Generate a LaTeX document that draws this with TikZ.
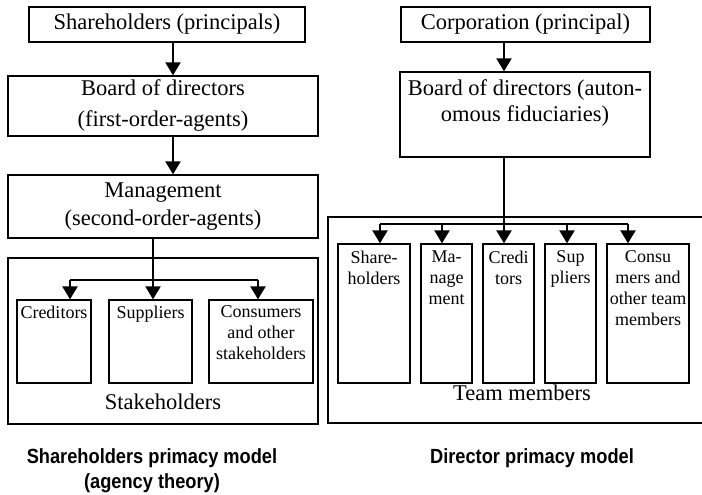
\documentclass[tikz,border=0pt]{standalone}
\usepackage{fontspec}
\setmainfont{Liberation Serif}
\newfontfamily\capfont[FakeStretch=0.89]{Liberation Sans}
\usetikzlibrary{arrows.meta}
\begin{document}
\begin{tikzpicture}[x=1pt,y=-1pt,
  box/.style={draw, line width=1.3pt, inner sep=0pt},
  big/.style={font=\fontsize{22.5}{30}\selectfont, align=center},
  small/.style={font=\fontsize{18}{21}\selectfont, align=center, inner sep=0pt, anchor=north},
  arr/.style={line width=2.2pt, -{Triangle[width=15pt,length=13pt]}},
  ln/.style={line width=1.8pt},
  captxt/.style={font=\capfont\bfseries\fontsize{20.5}{25}\selectfont, align=center}]
\useasboundingbox (0,0) rectangle (702,495);

% ---------- left: shareholder primacy ----------
\node[box, big, minimum width=276pt, minimum height=35pt] (sh) at (167,24.5) {Shareholders (principals)};
\node[box, big, minimum width=310pt, minimum height=60pt, font=\fontsize{22.5}{31}\selectfont] (bd) at (163,106) {Board of directors\\(first-order-agents)};
\node[box, big, minimum width=310pt, minimum height=63pt, font=\fontsize{22.5}{28}\selectfont] (mg) at (163,206.5) {Management\\(second-order-agents)};
\node[box, minimum width=310pt, minimum height=166pt] (stk) at (163,341) {};
\node[box, minimum width=74pt, minimum height=83pt] (cred) at (54,341.5) {};
\node[box, minimum width=83pt, minimum height=83pt] (sup) at (150.5,341.5) {};
\node[box, minimum width=104pt, minimum height=83pt] (cons) at (261,341.5) {};
\node[small] (credt) at (54,305.7) {Creditors};
\node[small] (supt) at (150.5,305.7) {Suppliers};
\node[small] (const) at (261,305.7) {Consumers\\and other\\stakeholders};
\node[big] (stkt) at (163,401.5) {Stakeholders};
\node[captxt] (capl) at (152,471) {Shareholders primacy model\\(agency theory)};

\coordinate (xa) at (173,0);
\coordinate (xb) at (153,0);
\coordinate (hl) at (70,280);
\coordinate (hr) at (258,280);
\draw[arr] (sh.south -| xa) -- (bd.north -| xa);
\draw[arr] (bd.south -| xa) -- (mg.north -| xa);
\draw[ln] (hl) -- (hr);
\draw[arr] (mg.south -| xb) -- (sup.north -| xb);
\draw[arr] (hl) -- (cred.north -| hl);
\draw[arr] (hr) -- (cons.north -| hr);

% ---------- right: director primacy ----------
\node[box, big, minimum width=249pt, minimum height=35pt] (corp) at (525.5,24.5) {Corporation (principal)};
\node[box, minimum width=250pt, minimum height=85pt] (rbd) at (525,114.5) {};
\node[big, inner sep=0pt, anchor=north, font=\fontsize{22.5}{26}\selectfont] (rbdt) at (525,79.6) {Board of directors (auton-\\omous fiduciaries)};
\draw[line width=1.3pt] (702,217) -- (328,217) -- (328,423) -- (702,423);
\node[box, minimum width=72pt, minimum height=139pt] (rsh) at (374,313.5) {};
\node[box, minimum width=51pt, minimum height=139pt] (rmg) at (446.5,313.5) {};
\node[box, minimum width=51pt, minimum height=139pt] (rcr) at (508.5,313.5) {};
\node[box, minimum width=51pt, minimum height=139pt] (rsu) at (570.5,313.5) {};
\node[box, minimum width=82pt, minimum height=139pt] (rco) at (648,313.5) {};
\node[small] (rsht) at (374,250.7) {Share-\\holders};
\node[small] (rmgt) at (446.5,250.7) {Ma-\\nage\\ment};
\node[small] (rcrt) at (508.5,250.7) {Credi\\tors};
\node[small] (rsut) at (570.5,250.7) {Sup\\pliers};
\node[small] (rcot) at (648,250.7) {Consu\\mers and\\other team\\members};
\node[big] (tmt) at (522,393) {Team members};
\node[captxt] (capr) at (532,458) {Director primacy model};

\coordinate (xc) at (504,0);
\coordinate (rl) at (380,224);
\coordinate (rr) at (628,224);
\coordinate (x2) at (442,224);
\coordinate (x4) at (567,224);
\draw[arr] (corp.south -| xc) -- (rbd.north -| xc);
\draw[ln] (rl) -- (rr);
\draw[arr] (rbd.south -| xc) -- (rcr.north -| xc);
\draw[arr] (rl) -- (rsh.north -| rl);
\draw[arr] (x2) -- (rmg.north -| x2);
\draw[arr] (x4) -- (rsu.north -| x4);
\draw[arr] (rr) -- (rco.north -| rr);
\end{tikzpicture}
\end{document}
